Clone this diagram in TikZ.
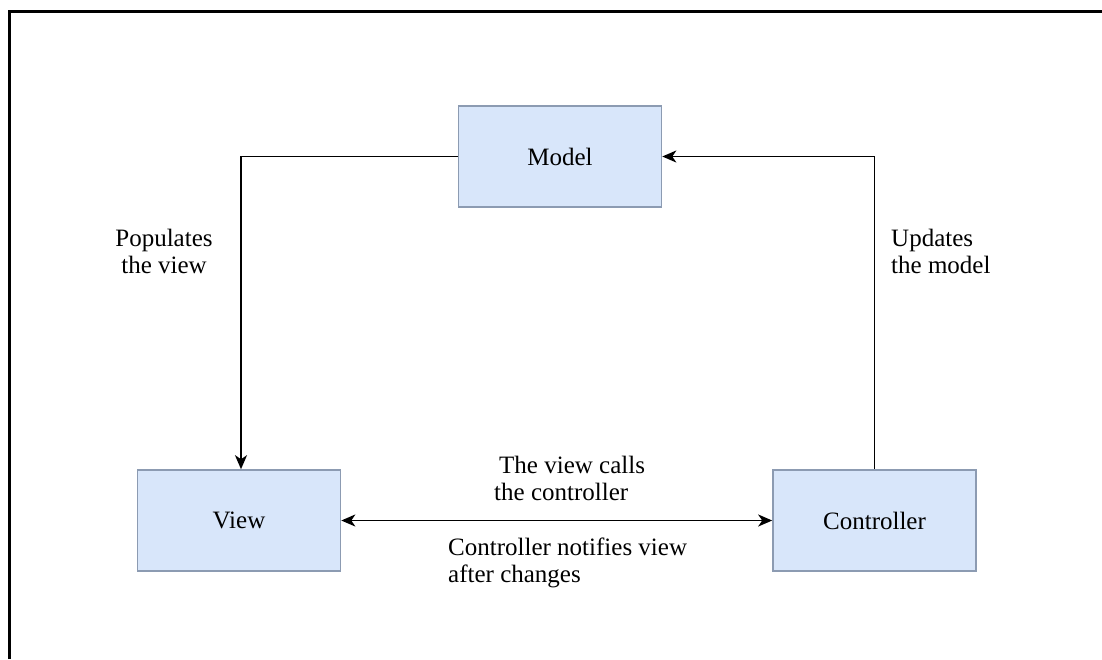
\documentclass[tikz,border=0pt]{standalone}
\usepackage{fontspec}
\setmainfont{Liberation Serif}
\usetikzlibrary{arrows.meta}
\definecolor{boxfill}{HTML}{D8E6FA}
\definecolor{boxline}{HTML}{8C9BB2}
\tikzset{
  txt/.style={font=\fontsize{25}{27}\selectfont},
  block/.style={txt, draw=boxline, line width=1.6pt, fill=boxfill, minimum width=203pt, minimum height=101pt, inner sep=0pt},
  lbl/.style={txt, align=left, inner sep=0pt},
  conn/.style={line width=1.8pt, -{Stealth[length=14pt,width=12pt,inset=4pt]}},
  conn2/.style={line width=1.8pt, {Stealth[length=14pt,width=12pt,inset=4pt]}-{Stealth[length=14pt,width=12pt,inset=4pt]}}
}
\begin{document}
\begin{tikzpicture}[x=1pt,y=-1pt]
\useasboundingbox (0,0) rectangle (1102,659);
\draw[line width=3pt] (9,659) -- (9,11) -- (1102,11);
\node[block] (model) at (560,156.5) {Model};
\node[block] (view) at (239,520.5) {View};
\node[block] (ctrl) at (874.5,520.5) {Controller};
\coordinate (c1) at (241,156.5);
\coordinate (c2) at (874.5,156.5);
\draw[conn] (model.west) -- (c1) -- (c1 |- view.north);
\draw[conn] (ctrl.north) -- (c2) -- (model.east);
\draw[conn2] (view.east) -- (ctrl.west);
\node[lbl, align=center] (l1) at (164,251) {Populates\\the view};
\node[lbl, anchor=west] (l2) at (891,251) {Updates\\the model};
\node[lbl, anchor=west] (l3) at (494,478) {\hspace*{5pt}The view calls\\the controller};
\node[lbl, anchor=west] (l4) at (448,563) {Controller notifies view\\after changes};
\end{tikzpicture}
\end{document}
